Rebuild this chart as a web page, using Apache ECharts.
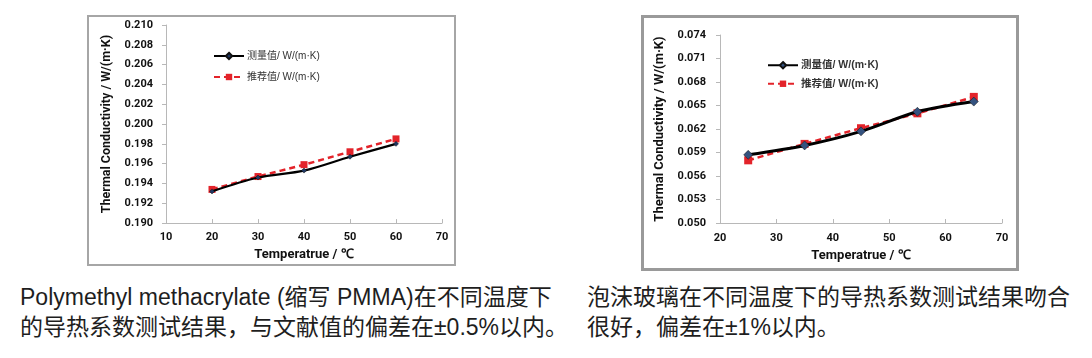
<!DOCTYPE html>
<html>
<head>
<meta charset="utf-8">
<script src="https://cdn.jsdelivr.net/npm/echarts@6/dist/echarts.min.js"></script>
<style>
  html, body { margin: 0; padding: 0; background: #fff; }
  #page { position: relative; width: 1092px; height: 358px; overflow: hidden; background: #fff; }
  .box { position: absolute; box-sizing: border-box; pointer-events: none; }
  .chart { position: absolute; }
  .cap { position: absolute; font-family: "Liberation Sans", "Noto Sans CJK SC", sans-serif; font-size: 23px; line-height: 30px; color: #1e1e1e; white-space: nowrap; }
</style>
</head>
<body>
<div id="page">
  <div id="c1" class="chart" style="left:87px;top:15px;width:369px;height:251px;"></div>
  <div class="box" style="left:87px;top:15px;width:369px;height:251px;border:2px solid #a6a6a6;"></div>
  <div id="c2" class="chart" style="left:641px;top:15px;width:378px;height:256px;"></div>
  <div class="box" style="left:641px;top:15px;width:378px;height:256px;border:3px solid #9a9a9a;"></div>
  <div id="cap1" class="cap" style="left:20px;top:282px;"></div>
  <div id="cap2" class="cap" style="left:587px;top:282px;"></div>
</div>
<script>
// ---- data ----
const legendNames = ['测量值/ W/(m·K)', '推荐值/ W/(m·K)'];
const yTitle = 'Thermal Conductivity / W/(m·K)';
const xTitle = 'Temperatrue / ℃';

// PMMA chart
const pmmaTemps = [20, 30, 40, 50, 60];
const pmmaMeasured = [0.1932, 0.1946, 0.1953, 0.1967, 0.1980];
const pmmaRecommended = [0.1934, 0.1947, 0.1959, 0.1972, 0.1985];

// Foam glass chart
const foamTemps = [25, 35, 45, 55, 65];
const foamMeasured = [0.0587, 0.0599, 0.0617, 0.0642, 0.0655];
const foamRecommended = [0.0580, 0.0601, 0.0621, 0.0640, 0.0661];

const caption1 = ['Polymethyl methacrylate (缩写 PMMA)在不同温度下', '的导热系数测试结果，与文献值的偏差在±0.5%以内。'];
const caption2 = ['泡沫玻璃在不同温度下的导热系数测试结果吻合', '很好，偏差在±1%以内。'];

document.getElementById('cap1').innerHTML = caption1.join('<br>');
document.getElementById('cap2').innerHTML = caption2.join('<br>');

const FONT = 'Roboto, "Liberation Sans", sans-serif';
const pair = (xs, ys) => xs.map((x, i) => [x, ys[i]]);

function makeOption(cfg) {
  return {
    animation: false,
    grid: cfg.grid,
    legend: {
      orient: 'vertical',
      left: cfg.legend.left,
      top: cfg.legend.top,
      itemWidth: 30,
      itemHeight: 8,
      itemGap: cfg.legend.gap,
      data: legendNames,
      textStyle: { fontSize: cfg.legend.fontSize, color: '#333', fontWeight: cfg.legend.weight, fontFamily: '"Liberation Sans", "Noto Sans CJK SC", sans-serif', padding: [0, 0, 0, -2] }
    },
    xAxis: {
      type: 'value',
      min: cfg.x.min, max: cfg.x.max, interval: 10,
      name: xTitle, nameLocation: 'middle', nameGap: cfg.x.nameGap,
      nameTextStyle: { fontSize: 13, fontWeight: 'bold', color: '#111', fontFamily: FONT },
      axisLine: { lineStyle: { color: '#b8b8b8', width: 1 } },
      axisTick: { show: true, inside: true, length: 4, lineStyle: { color: '#b8b8b8' } },
      axisLabel: { margin: cfg.x.margin, fontSize: 11, fontWeight: 'bold', color: '#111', fontFamily: FONT },
      splitLine: { show: false }
    },
    yAxis: {
      type: 'value',
      min: cfg.y.min, max: cfg.y.max, interval: cfg.y.interval,
      name: yTitle, nameLocation: 'middle', nameGap: cfg.y.nameGap, nameRotate: 90,
      nameTextStyle: { fontSize: cfg.y.nameSize, fontWeight: 'bold', color: '#111', fontFamily: FONT },
      axisLine: { show: true, lineStyle: { color: '#b8b8b8', width: 1 } },
      axisTick: { show: true, inside: false, length: 4, lineStyle: { color: '#b8b8b8' } },
      axisLabel: { margin: cfg.y.margin, fontSize: 11, fontWeight: 'bold', color: '#111', fontFamily: FONT, formatter: v => v.toFixed(3) },
      splitLine: { show: false }
    },
    series: [
      {
        name: legendNames[0], type: 'line', smooth: 0.3,
        data: pair(cfg.temps, cfg.measured),
        symbol: 'diamond', symbolSize: cfg.mSize,
        lineStyle: { color: '#000', width: cfg.lineW },
        itemStyle: { color: cfg.mColor, borderColor: '#111', borderWidth: 0.5 },
        z: 3
      },
      {
        name: legendNames[1], type: 'line', smooth: 0.3,
        data: pair(cfg.temps, cfg.recommended),
        symbol: 'rect', symbolSize: cfg.rSize,
        lineStyle: { color: '#e3232a', width: 2.5, type: [6, 4] },
        itemStyle: { color: '#e3232a' },
        z: 2
      }
    ]
  };
}

const c1 = echarts.init(document.getElementById('c1'), null, { renderer: 'canvas' });
c1.setOption(makeOption({
  grid: { left: 79, top: 10, width: 276, height: 204 },
  legend: { left: 121, top: 31, gap: 11, fontSize: 10, weight: 'normal' },
  x: { min: 10, max: 70, nameGap: 19, margin: 9 },
  y: { min: 0.190, max: 0.210, interval: 0.002, nameGap: 46, margin: 13, nameSize: 12.5 },
  temps: pmmaTemps, measured: pmmaMeasured, recommended: pmmaRecommended,
  mSize: 5, mColor: '#1f3864', rSize: 7, lineW: 2.2
}));

const c2 = echarts.init(document.getElementById('c2'), null, { renderer: 'canvas' });
c2.setOption(makeOption({
  grid: { left: 79, top: 20, width: 282, height: 188 },
  legend: { left: 121, top: 40, gap: 8, fontSize: 10.5, weight: 'bold' },
  x: { min: 20, max: 70, nameGap: 18, margin: 10 },
  y: { min: 0.050, max: 0.074, interval: 0.003, nameGap: 47, margin: 14, nameSize: 13 },
  temps: foamTemps, measured: foamMeasured, recommended: foamRecommended,
  mSize: 9, mColor: '#34527f', rSize: 8, lineW: 3
}));
</script>
</body>
</html>
